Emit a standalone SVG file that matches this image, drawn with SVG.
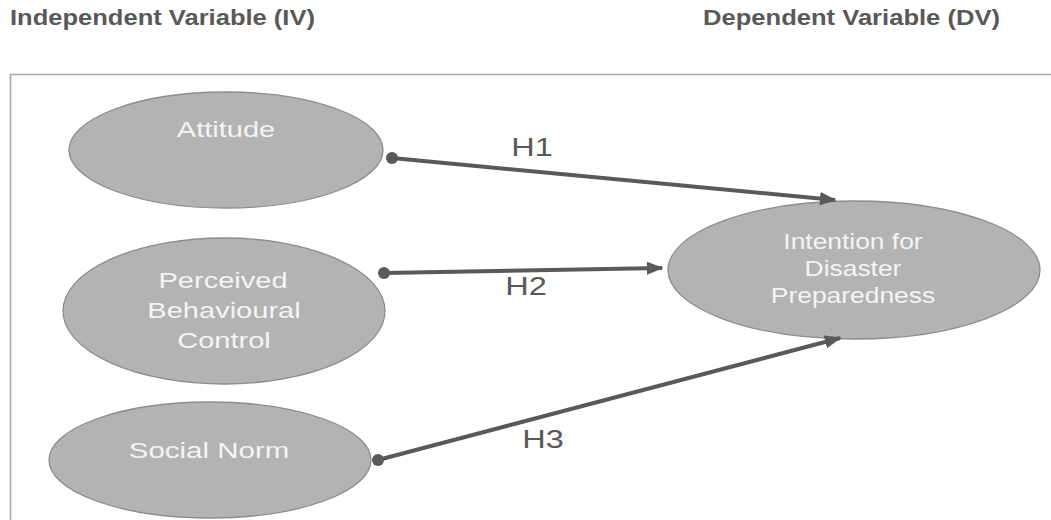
<svg xmlns="http://www.w3.org/2000/svg" width="1051" height="520" viewBox="0 0 1051 520">
<style>
.hdr{font-family:"Liberation Sans",Arial,sans-serif;font-weight:bold;font-size:22px;fill:#595959}
.node{fill:#b3b3b3;stroke:#8c8c8c;stroke-width:1.3}
.nt{font-family:"Liberation Sans",Arial,sans-serif;font-size:22px;fill:#f4f4f4;text-anchor:middle}
.con{stroke:#595959;stroke-width:4;fill:none;marker-end:url(#arr)}
.dot{fill:#595959}
.lbl{font-family:"Liberation Sans",Arial,sans-serif;font-size:26px;fill:#595959;text-anchor:middle}
</style>
<defs>
<marker id="arr" viewBox="0 0 10 10" refX="9" refY="5" markerWidth="4.2" markerHeight="3.3" orient="auto" markerUnits="strokeWidth" preserveAspectRatio="none">
<path d="M0,0 L10,5 L0,10 z" fill="#595959"/>
</marker>
</defs>
<rect width="1051" height="520" fill="#ffffff"/>
<text class="hdr" x="10" y="25" textLength="305" lengthAdjust="spacingAndGlyphs">Independent Variable (IV)</text>
<text class="hdr" x="703" y="25" textLength="297" lengthAdjust="spacingAndGlyphs">Dependent Variable (DV)</text>
<path d="M10.5,530 L10.5,74.5 L1060,74.5" fill="none" stroke="#a6a6a6" stroke-width="1.6"/>
<g id="attitude">
<ellipse class="node" cx="226" cy="150" rx="157" ry="58"/>
<text class="nt" transform="translate(226 137) scale(1.32 1)">Attitude</text>
</g>
<g id="pbc">
<ellipse class="node" cx="224" cy="311" rx="161" ry="73"/>
<text class="nt" transform="translate(223 288) scale(1.32 1)">Perceived</text>
<text class="nt" transform="translate(224 318) scale(1.32 1)">Behavioural</text>
<text class="nt" transform="translate(224 348) scale(1.32 1)">Control</text>
</g>
<g id="social-norm">
<ellipse class="node" cx="210" cy="460" rx="161" ry="58"/>
<text class="nt" transform="translate(209 458) scale(1.34 1)">Social Norm</text>
</g>
<g id="intention">
<ellipse class="node" cx="854" cy="270" rx="186" ry="69"/>
<text class="nt" transform="translate(853 249) scale(1.2 1)">Intention for</text>
<text class="nt" transform="translate(853 276) scale(1.2 1)">Disaster</text>
<text class="nt" transform="translate(853 303) scale(1.2 1)">Preparedness</text>
</g>
<g id="connectors">
<line class="con" x1="392" y1="158" x2="835" y2="200"/>
<circle class="dot" cx="392" cy="158" r="6"/>
<line class="con" x1="384" y1="273" x2="662" y2="268"/>
<circle class="dot" cx="384" cy="273" r="6"/>
<line class="con" x1="378" y1="460" x2="840" y2="338"/>
<circle class="dot" cx="378" cy="460" r="6"/>
<text class="lbl" transform="translate(532 156) scale(1.25 1)">H1</text>
<text class="lbl" transform="translate(526 295) scale(1.25 1)">H2</text>
<text class="lbl" transform="translate(543 448) scale(1.25 1)">H3</text>
</g>
</svg>
